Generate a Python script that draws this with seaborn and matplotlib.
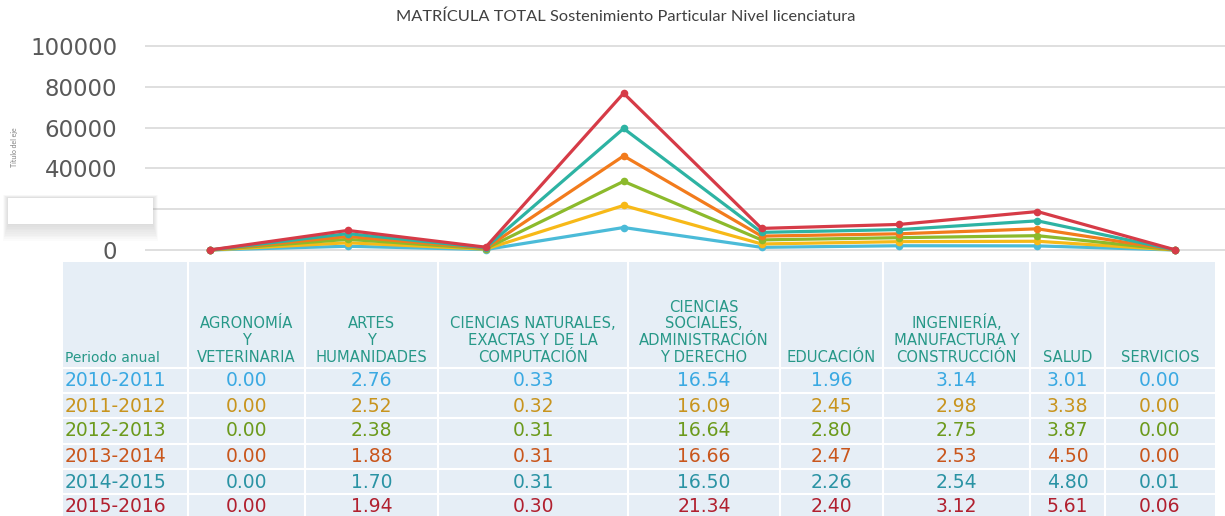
import numpy as np
import pandas as pd
import matplotlib
matplotlib.use("Agg")
import matplotlib.pyplot as plt
import seaborn as sns
from matplotlib.patches import Rectangle

# ---------------- data ----------------
title = "MATRÍCULA TOTAL Sostenimiento Particular Nivel licenciatura"
categories = ["AGRONOMÍA Y VETERINARIA", "ARTES Y HUMANIDADES",
              "CIENCIAS NATURALES, EXACTAS Y DE LA COMPUTACIÓN",
              "CIENCIAS SOCIALES, ADMINISTRACIÓN Y DERECHO", "EDUCACIÓN",
              "INGENIERÍA, MANUFACTURA Y CONSTRUCCIÓN", "SALUD", "SERVICIOS"]
header_labels = ["AGRONOMÍA\nY\nVETERINARIA", "ARTES\nY\nHUMANIDADES",
                 "CIENCIAS NATURALES,\nEXACTAS Y DE LA\nCOMPUTACIÓN",
                 "CIENCIAS\nSOCIALES,\nADMINISTRACIÓN\nY DERECHO", "EDUCACIÓN",
                 "INGENIERÍA,\nMANUFACTURA Y\nCONSTRUCCIÓN", "SALUD", "SERVICIOS"]
periods = ["2010-2011", "2011-2012", "2012-2013", "2013-2014", "2014-2015", "2015-2016"]

# enrolment per period (stacked in the chart)
enrol_2010 = [0, 1840, 220, 11020, 1310, 2090, 2010, 0]
enrol_2011 = [0, 1700, 215, 10820, 1650, 2000, 2270, 0]
enrol_2012 = [0, 1690, 220, 11800, 1990, 1950, 2740, 0]
enrol_2013 = [0, 1410, 230, 12480, 1850, 1900, 3370, 0]
enrol_2014 = [0, 1390, 250, 13440, 1840, 2070, 3910, 10]
enrol_2015 = [0, 1570, 240, 17290, 1950, 2530, 4550, 50]

# table values
pct_2010 = [0.00, 2.76, 0.33, 16.54, 1.96, 3.14, 3.01, 0.00]
pct_2011 = [0.00, 2.52, 0.32, 16.09, 2.45, 2.98, 3.38, 0.00]
pct_2012 = [0.00, 2.38, 0.31, 16.64, 2.80, 2.75, 3.87, 0.00]
pct_2013 = [0.00, 1.88, 0.31, 16.66, 2.47, 2.53, 4.50, 0.00]
pct_2014 = [0.00, 1.70, 0.31, 16.50, 2.26, 2.54, 4.80, 0.01]
pct_2015 = [0.00, 1.94, 0.30, 21.34, 2.40, 3.12, 5.61, 0.06]

y_ticks = [0, 20000, 40000, 60000, 80000, 100000]
y_tick_labels = ["0", "", "40000", "60000", "80000", "100000"]

line_colors = ["#4BBBD8", "#F7B918", "#8CBA2C", "#F27B1C", "#2DB3A3", "#D63B47"]
text_colors = ["#3AA9E2", "#C8941E", "#6C9A1C", "#C9561C", "#2A93A4", "#B1202F"]
header_color = "#279888"

# ---------------- figure ----------------
W, H = 1225, 516
sns.set_theme(style="white")
plt.rcParams["font.family"] = ["DejaVu Sans"]
fig = plt.figure(figsize=(W / 100, H / 100), dpi=100)

# main line axes (pixel layout)
ylo, yhi = -2000, 102000
px_per = 204 / 100000
top_px = 46 - (yhi - 100000) * px_per
bot_px = 250 + (0 - ylo) * px_per
ax = fig.add_axes([145 / W, 1 - bot_px / H, 1080 / W, (bot_px - top_px) / H])

enrol = np.array([enrol_2010, enrol_2011, enrol_2012, enrol_2013, enrol_2014, enrol_2015])
stacked = np.cumsum(enrol, axis=0)
rows = []
for pi, p in enumerate(periods):
    for ci, c in enumerate(categories):
        rows.append({"pos": ci, "categoria": c, "periodo": p, "valor": stacked[pi, ci]})
df = pd.DataFrame(rows)

sns.lineplot(data=df, x="pos", y="valor", hue="periodo", hue_order=periods,
             palette=line_colors, marker="o", markersize=5.5, markeredgewidth=0,
             linewidth=2.3, sort=False, legend=False, ax=ax)

ax.set_xlim(-0.47, 7.36)
ax.set_ylim(ylo, yhi)
ax.set_yticks(y_ticks)
ax.set_yticklabels(y_tick_labels, fontsize=16.5, color="#595959")
ax.set_xticks([])
ax.tick_params(axis="y", length=0, pad=20)
ax.grid(axis="y", color="#D9D9D9", linewidth=1.2)
ax.set_axisbelow(True)
for s in ax.spines.values():
    s.set_visible(False)
ax.set_xlabel("")
ax.set_ylabel("")
for ln in ax.lines:
    ln.set_clip_on(False)

# ---------------- overlay (title, box, table) ----------------
ov = fig.add_axes([0, 0, 1, 1], zorder=5)
ov.set_xlim(0, W)
ov.set_ylim(H, 0)
ov.axis("off")
ov.patch.set_alpha(0)

ov.text(626, 17, title, ha="center", va="center", fontsize=11.8, color="#404040",
        family="Lato")
ov.text(15, 147, "Título del eje", ha="center", va="center", rotation=90,
        fontsize=5, color="#7F7F7F", family="Lato")

# white box with soft shadow
for i in range(10):
    pad = 1 + i * 1.6
    ov.add_patch(Rectangle((8 - pad * 0.3, 198 - pad * 0.2), 145 + pad * 0.6, 26 + pad * 1.3,
                           facecolor="#9A9A9A", edgecolor="none", alpha=0.035))
ov.add_patch(Rectangle((8, 198), 145, 26, facecolor="white", edgecolor="none"))

# table
col_edges = [63, 188, 305, 438, 628, 780, 883, 1030, 1105, 1215]
row_y = [380, 406, 431, 456, 482, 507]
ov.add_patch(Rectangle((col_edges[0], 262), col_edges[-1] - col_edges[0], H - 262,
                       facecolor="#E6EEF6", edgecolor="none"))
for x in col_edges[1:-1]:
    ov.plot([x, x], [262, H], color="white", linewidth=1.5)
for y in [368, 393, 418, 444, 469, 494]:
    ov.plot([col_edges[0], col_edges[-1]], [y, y], color="white", linewidth=1.5)

ov.text(65, 362, "Periodo anual", ha="left", va="baseline", fontsize=10, color=header_color)
for ci, lab in enumerate(header_labels):
    cx = (col_edges[ci + 1] + col_edges[ci + 2]) / 2
    ov.text(cx, 362, lab, ha="center", va="baseline", fontsize=10.6, color=header_color,
            linespacing=1.15)

pcts = [pct_2010, pct_2011, pct_2012, pct_2013, pct_2014, pct_2015]
for pi, p in enumerate(periods):
    y = row_y[pi]
    ov.text(65, y, p, ha="left", va="center", fontsize=13.5, color=text_colors[pi])
    for ci, v in enumerate(pcts[pi]):
        cx = (col_edges[ci + 1] + col_edges[ci + 2]) / 2
        ov.text(cx, y, f"{v:.2f}", ha="center", va="center", fontsize=13.5,
                color=text_colors[pi])

fig.savefig("out.png", dpi=100, facecolor="white")
